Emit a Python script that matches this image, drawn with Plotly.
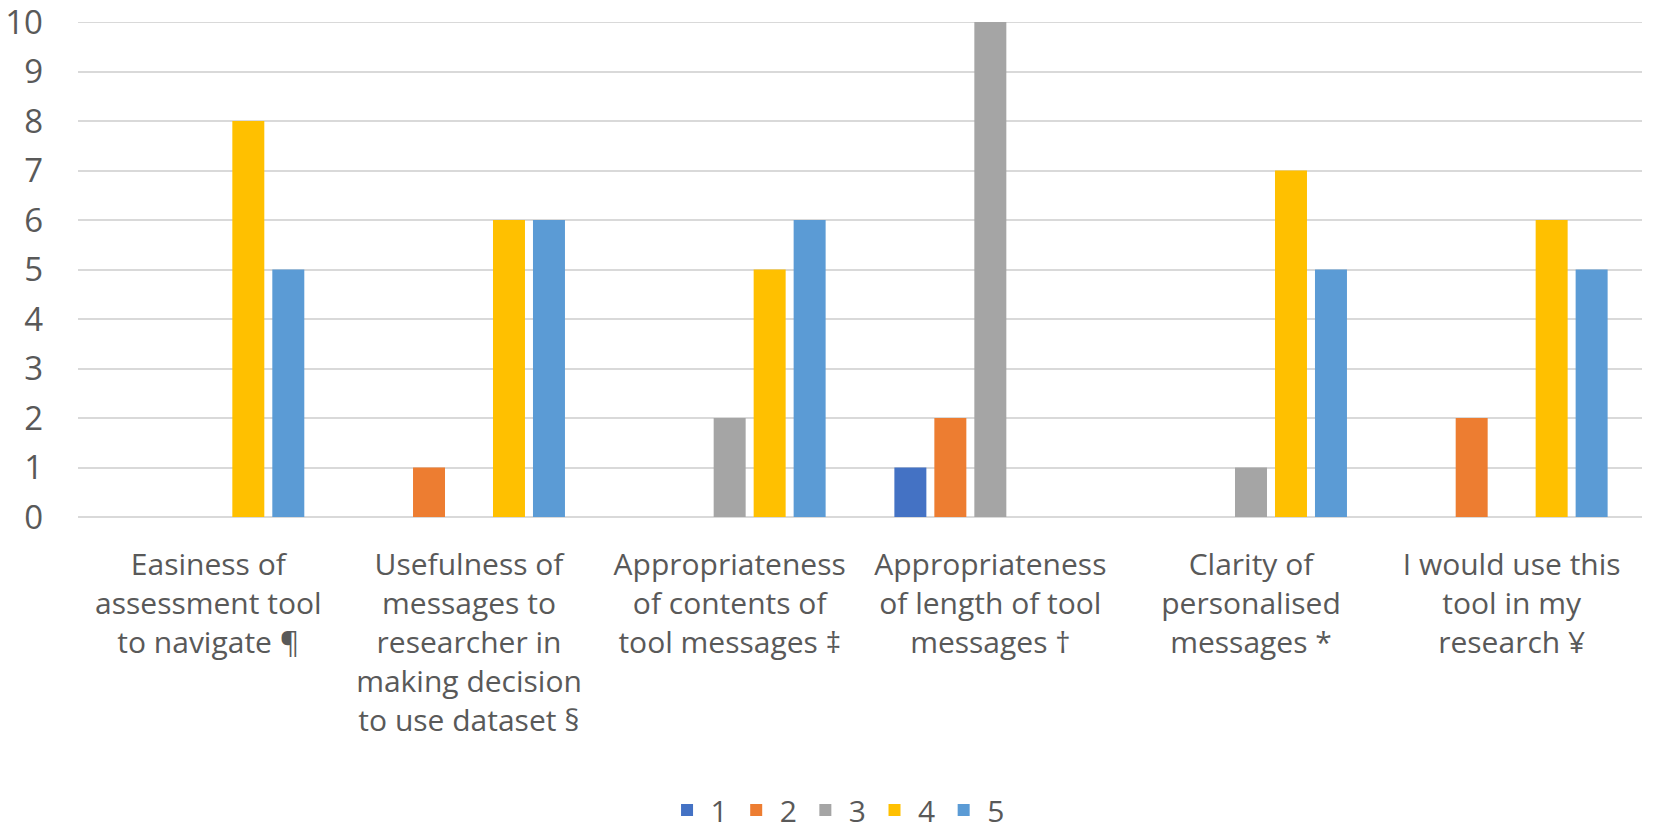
import plotly.graph_objects as go

categories = [
    "Easiness of<br>assessment tool<br>to navigate ¶",
    "Usefulness of<br>messages to<br>researcher in<br>making decision<br>to use dataset §",
    "Appropriateness<br>of contents of<br>tool messages ‡",
    "Appropriateness<br>of length of tool<br>messages †",
    "Clarity of<br>personalised<br>messages *",
    "I would use this<br>tool in my<br>research ¥",
]
series_names = ["1", "2", "3", "4", "5"]
values_1 = [0, 0, 0, 1, 0, 0]
values_2 = [0, 1, 0, 2, 0, 2]
values_3 = [0, 0, 2, 10, 1, 0]
values_4 = [8, 6, 5, 0, 7, 6]
values_5 = [5, 6, 6, 0, 5, 5]
colors = ["#4472C4", "#ED7D31", "#A5A5A5", "#FFC000", "#5B9BD5"]
y_ticks = [0, 1, 2, 3, 4, 5, 6, 7, 8, 9, 10]

all_values = [values_1, values_2, values_3, values_4, values_5]

fig = go.Figure()
for name, vals, col in zip(series_names, all_values, colors):
    fig.add_trace(go.Bar(x=categories, y=vals, name=name, marker=dict(color=col, line=dict(width=0))))

font_family = "Open Sans"
fig.update_layout(
    width=1654, height=830,
    barmode="group", bargap=0.233, bargroupgap=0.2,
    paper_bgcolor="white", plot_bgcolor="white",
    margin=dict(l=78, r=12, t=22, b=313, autoexpand=False),
    font=dict(family=font_family, color="#595959", size=30),
    showlegend=True,
    legend=dict(orientation="h", x=0.485, xanchor="center", y=-0.592, yanchor="middle",
                font=dict(size=30, color="#595959"), itemwidth=37, traceorder="normal"),
)
fig.update_yaxes(range=[min(y_ticks), max(y_ticks)], tickvals=y_ticks, showgrid=True,
                 gridcolor="#D9D9D9", gridwidth=2,
                 zeroline=True, zerolinecolor="#D9D9D9", zerolinewidth=2, showline=False,
                 automargin=False, ticklabeloverflow="allow", ticklabelstandoff=34,
                 tickfont=dict(size=33, color="#595959"))
fig.update_xaxes(showline=False, showgrid=False, tickangle=0, automargin=False, ticklabelstandoff=27,
                 ticklabeloverflow="allow", tickfont=dict(size=30, color="#595959"))

# top gridline (plotly may skip the gridline lying exactly on the plot edge)
fig.add_shape(type="line", xref="paper", yref="y", x0=0, x1=1, y0=max(y_ticks), y1=max(y_ticks),
              line=dict(color="#D9D9D9", width=2), layer="below")

fig.write_html("out.html", config={"displayModeBar": False},
               post_script="document.body.style.margin='0';document.body.style.overflow='hidden';")
